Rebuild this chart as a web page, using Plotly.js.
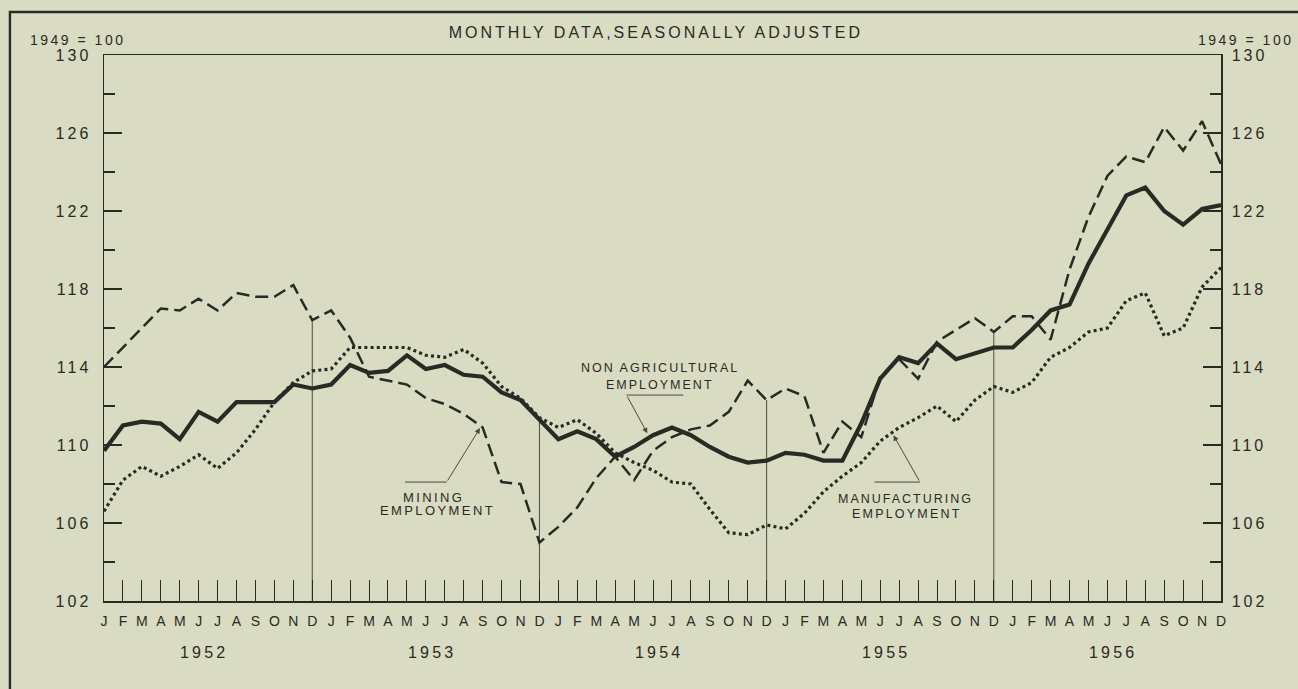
<!DOCTYPE html>
<html>
<head>
<meta charset="utf-8">
<script src="https://cdn.plot.ly/plotly-3.0.1.min.js"></script>
<style>
  html, body { margin: 0; padding: 0; background: #d9dbc3; }
  #chart { width: 1298px; height: 689px; }
  .ytick text, .y2tick text { letter-spacing: 3px; }
  .gtitle { letter-spacing: 3px; }
</style>
</head>
<body>
<div id="chart"></div>
<script>
// ---- data (index 1949 = 100, monthly, seasonally adjusted) ----
const monthLetters = ['J','F','M','A','M','J','J','A','S','O','N','D'];
const years = [1952, 1953, 1954, 1955, 1956];

const nonAgricultural = [
  109.7, 111.0, 111.2, 111.1, 110.3, 111.7, 111.2, 112.2, 112.2, 112.2, 113.1, 112.9,
  113.1, 114.1, 113.7, 113.8, 114.6, 113.9, 114.1, 113.6, 113.5, 112.7, 112.3, 111.3,
  110.3, 110.7, 110.3, 109.4, 109.9, 110.5, 110.9, 110.5, 109.9, 109.4, 109.1, 109.2,
  109.6, 109.5, 109.2, 109.2, 111.1, 113.4, 114.5, 114.2, 115.2, 114.4, 114.7, 115.0,
  115.0, 115.9, 116.9, 117.2, 119.3, 121.1, 122.8, 123.2, 122.0, 121.3, 122.1, 122.3
];
const mining = [
  114.0, 115.0, 116.0, 117.0, 116.9, 117.5, 116.9, 117.8, 117.6, 117.6, 118.2, 116.4,
  116.9, 115.5, 113.5, 113.3, 113.1, 112.4, 112.1, 111.6, 110.9, 108.1, 108.0, 105.0,
  105.8, 106.8, 108.3, 109.4, 108.2, 109.7, 110.4, 110.8, 111.0, 111.7, 113.3, 112.3,
  112.9, 112.5, 109.6, 111.2, 110.4, 113.5, 114.4, 113.4, 115.3, 115.9, 116.5, 115.8,
  116.6, 116.6, 115.4, 119.0, 121.7, 123.8, 124.8, 124.5, 126.3, 125.1, 126.6, 124.4
];
const manufacturing = [
  106.6, 108.2, 108.9, 108.4, 108.9, 109.5, 108.8, 109.6, 110.8, 112.2, 113.2, 113.8,
  113.9, 115.0, 115.0, 115.0, 115.0, 114.6, 114.5, 114.9, 114.2, 113.0, 112.4, 111.4,
  110.9, 111.3, 110.6, 109.6, 109.1, 108.7, 108.1, 108.0, 106.7, 105.5, 105.4, 105.9,
  105.7, 106.5, 107.6, 108.4, 109.1, 110.2, 110.9, 111.4, 112.0, 111.2, 112.3, 113.0,
  112.7, 113.2, 114.5, 115.0, 115.8, 116.0, 117.4, 117.8, 115.6, 116.0, 118.1, 119.1
];
const yTickVals = [102, 106, 110, 114, 118, 122, 126, 130];
const titleText = 'MONTHLY DATA,SEASONALLY ADJUSTED';
const baseText = '1949 = 100';
const seriesLabels = {
  nonAg: ['NON AGRICULTURAL', 'EMPLOYMENT'],
  mining: ['MINING', 'EMPLOYMENT'],
  manuf: ['MANUFACTURING', 'EMPLOYMENT']
};

// ---- build ----
const ink = '#2a2a24';
const font = 'Liberation Sans, Arial, sans-serif';
const xIdx = nonAgricultural.map((_, i) => i);
const tickText = xIdx.map(i => monthLetters[i % 12]);

function spaced(t, ls) { return '<span style="letter-spacing:' + ls + 'px">' + t + '</span>'; }

const traces = [
  { x: xIdx, y: manufacturing, type: 'scatter', mode: 'lines',
    line: { color: ink, width: 3.2, dash: '3px,3.2px' }, hoverinfo: 'skip' },
  { x: xIdx, y: mining, type: 'scatter', mode: 'lines',
    line: { color: ink, width: 2.5, dash: '13px,6px' }, hoverinfo: 'skip' },
  { x: xIdx, y: nonAgricultural, type: 'scatter', mode: 'lines',
    line: { color: ink, width: 4.2 }, hoverinfo: 'skip' },
  { x: [0], y: [null], yaxis: 'y2', type: 'scatter', mode: 'lines', hoverinfo: 'skip' }
];

const shapes = [];
// outer frame
shapes.push({ type: 'rect', xref: 'paper', yref: 'paper',
  x0: -0.0842, x1: 1.1, y0: -0.25, y1: 1.0788,
  line: { color: ink, width: 2.4 }, layer: 'below' });
// December dividers, up to the highest series value that month
for (let k = 0; k < years.length - 1; k++) {
  const i = 12 * k + 11;
  const top = Math.max(nonAgricultural[i], mining[i], manufacturing[i]);
  shapes.push({ type: 'line', xref: 'x', yref: 'y', x0: i, x1: i, y0: 102, y1: top,
    line: { color: '#4a4a42', width: 1 }, layer: 'below' });
}
// leader horizontals
shapes.push({ type: 'line', xref: 'x', yref: 'y', x0: 27.6, x1: 30.6, y0: 112.56, y1: 112.56,
  line: { color: '#4a4a42', width: 1 } });
shapes.push({ type: 'line', xref: 'x', yref: 'y', x0: 15.9, x1: 18.1, y0: 108.1, y1: 108.1,
  line: { color: '#4a4a42', width: 1 } });
shapes.push({ type: 'line', xref: 'x', yref: 'y', x0: 40.7, x1: 43.1, y0: 108.1, y1: 108.1,
  line: { color: '#4a4a42', width: 1 } });

const ann = [];
function label(x, y, t, size, ls, xref, yref) {
  ann.push({ x: x, y: y, xref: xref || 'x', yref: yref || 'y', text: spaced(t, ls),
    showarrow: false, xanchor: 'center', yanchor: 'middle',
    font: { family: font, size: size, color: ink } });
}
function arrow(hx, hy, tx, ty) {
  ann.push({ x: hx, y: hy, ax: tx, ay: ty, xref: 'x', yref: 'y', axref: 'x', ayref: 'y',
    text: '', showarrow: true, arrowhead: 2, arrowsize: 1.1, arrowwidth: 1,
    arrowcolor: '#4a4a42', standoff: 0, startstandoff: 0 });
}
label(29.37, 113.95, seriesLabels.nonAg[0], 12.5, 2, 'x', 'y');
label(29.37, 113.08, seriesLabels.nonAg[1], 12.5, 2, 'x', 'y');
label(17.4, 107.33, seriesLabels.mining[0], 13, 2.4);
label(17.6, 106.62, seriesLabels.mining[1], 13, 2.4);
label(42.31, 107.23, seriesLabels.manuf[0], 12.5, 2);
label(42.42, 106.46, seriesLabels.manuf[1], 12.5, 2.2);
arrow(28.7, 110.6, 27.6, 112.56);
arrow(19.86, 110.87, 18.1, 108.1);
arrow(41.7, 110.5, 43.1, 108.1);
// base notes
label(-0.0237, 1.0275, baseText, 14, 2.5, 'paper', 'paper');
label(1.0215, 1.0275, baseText, 14, 2.5, 'paper', 'paper');
// year labels
years.forEach((yr, k) => {
  ann.push({ x: 12 * k + 5.3, y: -0.0952, xref: 'x', yref: 'paper', text: spaced(String(yr), 3.2),
    showarrow: false, xanchor: 'center', yanchor: 'middle',
    font: { family: font, size: 16, color: ink } });
});

const yAxisBase = {
  range: [102, 130], tickmode: 'array', tickvals: yTickVals,
  ticks: 'inside', ticklen: 18, tickwidth: 1.1, tickcolor: ink,
  minor: { tickvals: [104, 108, 112, 116, 120, 124, 128], ticks: 'inside', ticklen: 11, tickwidth: 1.1, tickcolor: ink },
  showgrid: false, zeroline: false, showline: true, linecolor: ink, linewidth: 1.5,
  tickfont: { family: font, size: 16, color: ink }, fixedrange: true
};

const layout = {
  width: 1298, height: 689,
  paper_bgcolor: '#d9dbc3', plot_bgcolor: 'rgba(0,0,0,0)',
  margin: { l: 104, r: 77, t: 55, b: 88 },
  showlegend: false,
  title: { text: titleText, x: 0.494, xref: 'paper', xanchor: 'center',
    y: 1 - 32 / 689, yref: 'container', yanchor: 'middle',
    font: { family: font, size: 16, color: ink } },
  xaxis: {
    range: [0, 59], tickmode: 'array', tickvals: xIdx, ticktext: tickText,
    ticks: 'inside', ticklen: 21, tickwidth: 1, tickcolor: ink,
    showgrid: false, zeroline: false, showline: true, mirror: true,
    linecolor: ink, linewidth: 1.5, ticklabelstandoff: 7,
    tickfont: { family: font, size: 14, color: ink }, fixedrange: true
  },
  yaxis: Object.assign({}, yAxisBase, { side: 'left', ticklabelstandoff: 8 }),
  yaxis2: Object.assign({}, yAxisBase, { side: 'right', overlaying: 'y', ticklabelstandoff: 6 }),
  shapes: shapes,
  annotations: ann
};

Plotly.newPlot('chart', traces, layout, { displayModeBar: false, staticPlot: true });
</script>
</body>
</html>
